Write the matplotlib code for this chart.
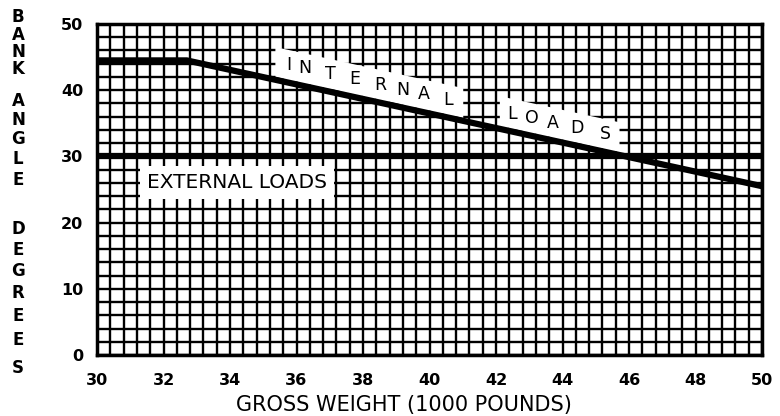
import numpy as np
import matplotlib.pyplot as plt
from matplotlib.ticker import MultipleLocator

# Bank angle limits vs gross weight
weight_internal = [30, 32.7, 50]
angle_internal = [44.5, 44.5, 25.5]

weight_external = [30, 50]
angle_external = [30, 30]

# Spaced-out curve label: letter and x position along the internal-load line
internal_letters = list("INTERNAL")
internal_letter_x = [35.77, 36.26, 37.01, 37.76, 38.51, 39.2, 39.83, 40.56]
loads_letters = list("LOADS")
loads_letter_x = [42.48, 43.08, 43.71, 44.44, 45.28]

ylabel_letters = list("BANKANGLEDEGREES")
ylabel_pix_y = [17, 35, 52, 69, 101, 120, 139, 159, 180,
                229, 250, 271, 293, 316, 340, 368]

fig = plt.figure(figsize=(7.8, 4.16), dpi=100)
ax = fig.add_axes([97 / 780, 1 - 355 / 416, (762 - 97) / 780, (355 - 24) / 416])

ax.set_xlim(30, 50)
ax.set_ylim(0, 50)
ax.xaxis.set_major_locator(MultipleLocator(2))
ax.xaxis.set_minor_locator(MultipleLocator(0.4))
ax.yaxis.set_major_locator(MultipleLocator(10))
ax.yaxis.set_minor_locator(MultipleLocator(2))
ax.set_axisbelow(True)
ax.grid(which="both", color="black", linewidth=1.7)
ax.tick_params(which="both", length=0)
ax.tick_params(axis="x", pad=13, labelsize=11.5)
ax.tick_params(axis="y", pad=10, labelsize=11.5)
for lbl in ax.get_xticklabels() + ax.get_yticklabels():
    lbl.set_fontweight("bold")
for sp in ax.spines.values():
    sp.set_linewidth(2.5)

# white strips behind the curve label
xs = np.linspace(35.35, 41.0, 50)
base = np.interp(xs, weight_internal, angle_internal)
ax.fill_between(xs, base + 0.5, base + 5.0, color="white", zorder=1, linewidth=0)
xs = np.linspace(42.1, 45.7, 50)
base = np.interp(xs, weight_internal, angle_internal)
ax.fill_between(xs, base + 0.5, base + 5.0, color="white", zorder=1, linewidth=0)

ax.plot(weight_internal, angle_internal, color="black", linewidth=4.5,
        solid_capstyle="butt", zorder=2)
ax.plot(weight_external, angle_external, color="black", linewidth=4.5,
        solid_capstyle="butt", zorder=2)

for ch, x in zip(internal_letters + loads_letters, internal_letter_x + loads_letter_x):
    y = np.interp(x, weight_internal, angle_internal) + 2.7
    ax.text(x, y, ch, ha="center", va="center", fontsize=12.5, zorder=3)

ax.text(34.2, 26.1, "EXTERNAL LOADS", ha="center", va="center", fontsize=14.5,
        zorder=3, bbox=dict(boxstyle="square,pad=0.35", facecolor="white",
                            edgecolor="none"))

for ch, py in zip(ylabel_letters, ylabel_pix_y):
    fig.text(18 / 780, 1 - py / 416, ch, ha="center", va="center",
             fontsize=12, fontweight="bold")

fig.text(404 / 780, 1 - 405 / 416, "GROSS WEIGHT (1000 POUNDS)",
         ha="center", va="center", fontsize=15)

fig.savefig("out.png", dpi=100)
